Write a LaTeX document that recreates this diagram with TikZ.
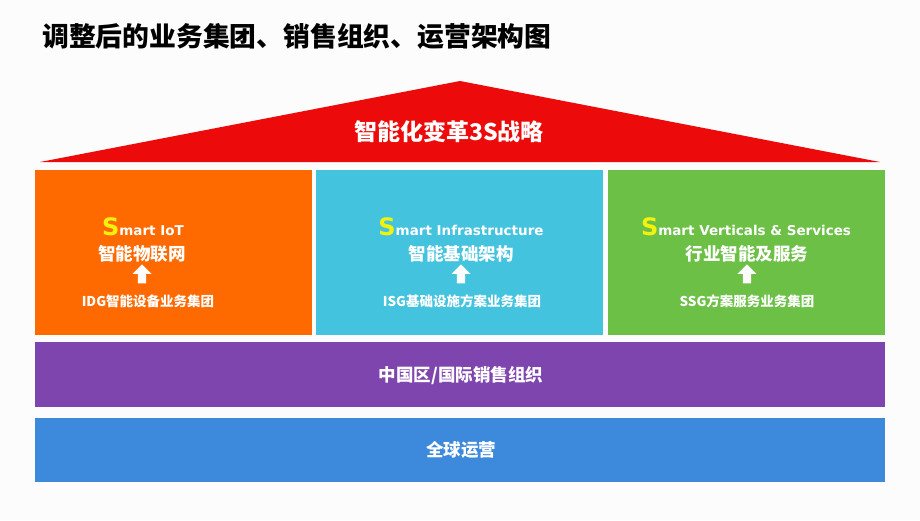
\documentclass[tikz,border=0pt]{standalone}
\usepackage{fontspec}
\setmainfont{Noto Sans CJK SC}
\newfontfamily\latinf{DejaVu Sans}
\usetikzlibrary{shapes.arrows}
\definecolor{bgc}{HTML}{FCFCFD}
\definecolor{roof}{HTML}{EC0A0A}
\definecolor{orangec}{HTML}{FF6A00}
\definecolor{cyanc}{HTML}{44C3DF}
\definecolor{greenc}{HTML}{6CC046}
\definecolor{purplec}{HTML}{7F45AE}
\definecolor{bluec}{HTML}{3D89DB}
\definecolor{yel}{HTML}{F2F20C}
\tikzset{
  box/.style={fill=#1, draw=none, inner sep=0pt, anchor=north west},
  smart/.style={text=white, font=\latinf\bfseries\fontsize{13.5}{16}\selectfont, inner sep=0pt},
  cn/.style={text=white, font=\bfseries\fontsize{17.5}{20}\selectfont, inner sep=0pt},
  grp/.style={text=white, font=\bfseries\fontsize{13.5}{16}\selectfont, inner sep=0pt},
  band/.style={text=white, font=\bfseries\fontsize{17.5}{20}\selectfont, inner sep=0pt},
  uparrow/.style={single arrow, fill=white, draw=none, shape border rotate=90,
    minimum height=19pt, minimum width=19pt, single arrow head extend=4pt, inner sep=3pt},
}
\newcommand{\bigS}{{\color{yel}\fontsize{24}{24}\selectfont S}}
\begin{document}
\begin{tikzpicture}[x=1pt,y=-1pt]
\useasboundingbox (0,0) rectangle (920,520);
\fill[bgc] (0,0) rectangle (920,520);
% title
\node[anchor=west, inner sep=0pt, font=\bfseries\fontsize{26.8}{30}\selectfont] (title) at (42,36) {调整后的业务集团、销售组织、运营架构图};
% roof
\fill[roof] (40,162) coordinate (rl) -- (460,81) coordinate (apex) -- (880,162) coordinate (rr) -- cycle;
\node[text=white, font=\bfseries\fontsize{23}{26}\selectfont, inner sep=0pt] (strategy) at (449,132) {智能化变革3S战略};
% pillars
\node[box=orangec, minimum width=277pt, minimum height=165pt] (iot) at (35,170) {};
\node[box=cyanc, minimum width=287pt, minimum height=165pt] (infra) at (316,170) {};
\node[box=greenc, minimum width=277pt, minimum height=165pt] (vert) at (608,170) {};
% bands
\node[box=purplec, minimum width=850pt, minimum height=65pt] (sales) at (35,342) {};
\node[box=bluec, minimum width=850pt, minimum height=64pt] (ops) at (35,418) {};
% pillar texts
\node[smart] (t1) at (143,227) {\bigS mart IoT};
\node[cn] (c1) at (142,254) {智能物联网};
\node[uparrow] (a1) at (142,276) {};
\node[grp] (g1) at (148,301) {IDG智能设备业务集团};

\node[smart] (t2) at (461,227) {\bigS mart Infrastructure};
\node[cn] (c2) at (461,254) {智能基础架构};
\node[uparrow] (a2) at (461,276) {};
\node[grp] (g2) at (462,301) {ISG基础设施方案业务集团};

\node[smart] (t3) at (746,227) {\bigS mart Verticals \& Services};
\node[cn] (c3) at (747,254) {行业智能及服务};
\node[uparrow] (a3) at (747,276) {};
\node[grp] (g3) at (747,301) {SSG方案服务业务集团};
% band texts
\node[band] (s1) at (461,376) {中国区/国际销售组织};
\node[band] (o1) at (461,450) {全球运营};
\end{tikzpicture}
\end{document}
